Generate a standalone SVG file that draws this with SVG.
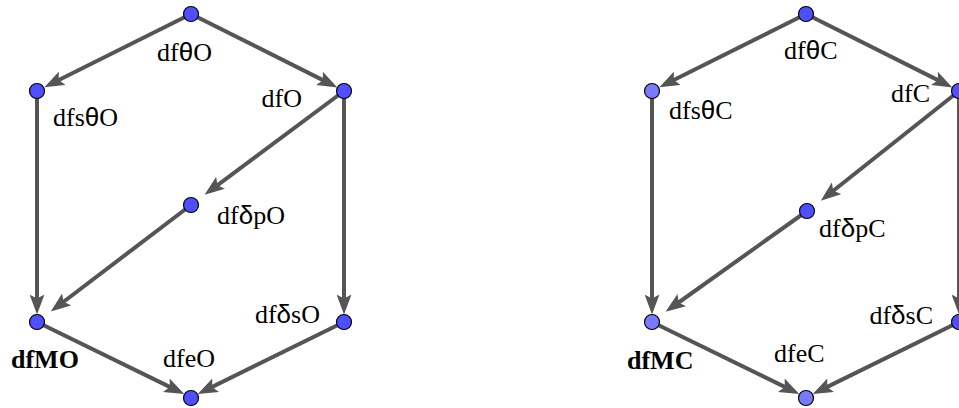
<svg xmlns="http://www.w3.org/2000/svg" width="959" height="408" viewBox="0 0 959 408">
<defs>
<style>
.e{stroke:#555;stroke-width:4;fill:none;marker-end:url(#ah)}
.n{stroke:#000;stroke-width:1.2}
.d{fill:#4f4fff}
.l{fill:#7a7aff}
text{font-family:"Liberation Serif","Times New Roman",serif;font-size:26px;fill:#000}
.g{font-family:"Liberation Sans",Arial,sans-serif}
.b{font-weight:bold}
.r{text-anchor:end}
</style>
<marker id="ah" viewBox="0 0 20 15" refX="10" refY="7.5" markerWidth="20" markerHeight="15" markerUnits="userSpaceOnUse" orient="auto">
<path d="M0,0 L20,7.5 L0,15 L4,7.5 Z" fill="#555"/>
</marker>
</defs>
<rect width="959" height="408" fill="#fff"/>
<g id="connectors">
<line class="e" x1="191" y1="14" x2="53.3" y2="82.8"/>
<line class="e" x1="191" y1="14" x2="328.4" y2="82.9"/>
<line class="e" x1="344" y1="91" x2="212.6" y2="188.8"/>
<line class="e" x1="191" y1="205" x2="58.7" y2="305.5"/>
<line class="e" x1="37" y1="91" x2="37" y2="304.5"/>
<line class="e" x1="344" y1="91" x2="344" y2="304.5"/>
<line class="e" x1="37" y1="322" x2="175.3" y2="389.6"/>
<line class="e" x1="344" y1="322" x2="206.7" y2="389.6"/>
<line class="e" x1="806" y1="14" x2="668.3" y2="82.8"/>
<line class="e" x1="806" y1="14" x2="943.4" y2="82.9"/>
<line class="e" x1="959" y1="91" x2="828.6" y2="194.5"/>
<line class="e" x1="807" y1="211" x2="673.7" y2="306.0"/>
<line class="e" x1="652" y1="91" x2="652" y2="304.5"/>
<line class="e" x1="959" y1="91" x2="959" y2="304.5"/>
<line class="e" x1="652" y1="322" x2="790.3" y2="389.6"/>
<line class="e" x1="959" y1="322" x2="821.7" y2="389.6"/>
</g>
<g id="n-dfthetaO"><circle class="n d" cx="191" cy="14" r="7.5"/><text x="157" y="61">df<tspan class="g">θ</tspan>O</text></g>
<g id="n-dfsthetaO"><circle class="n d" cx="37" cy="91" r="7.5"/><text x="53" y="126">dfs<tspan class="g">θ</tspan>O</text></g>
<g id="n-dfO"><circle class="n d" cx="344" cy="91" r="7.5"/><text class="r" x="302" y="107">dfO</text></g>
<g id="n-dfdeltapO"><circle class="n d" cx="191" cy="205" r="7.5"/><text x="217" y="224">df<tspan class="g">δ</tspan>pO</text></g>
<g id="n-dfMO"><circle class="n d" cx="37" cy="322" r="7.5"/><text class="b" x="11" y="368">dfMO</text></g>
<g id="n-dfdeltasO"><circle class="n d" cx="344" cy="322" r="7.5"/><text class="r" x="320" y="323">df<tspan class="g">δ</tspan>sO</text></g>
<g id="n-dfeO"><circle class="n d" cx="191" cy="398" r="7.5"/><text x="163" y="367">dfeO</text></g>
<g id="n-dfthetaC"><circle class="n d" cx="806" cy="14" r="7.5"/><text x="784" y="59">df<tspan class="g">θ</tspan>C</text></g>
<g id="n-dfsthetaC"><circle class="n l" cx="652" cy="91" r="7.5"/><text x="669" y="119">dfs<tspan class="g">θ</tspan>C</text></g>
<g id="n-dfC"><circle class="n d" cx="959" cy="91" r="7.5"/><text class="r" x="930" y="102">dfC</text></g>
<g id="n-dfdeltapC"><circle class="n d" cx="807" cy="211" r="7.5"/><text x="819" y="237">df<tspan class="g">δ</tspan>pC</text></g>
<g id="n-dfMC"><circle class="n l" cx="652" cy="322" r="7.5"/><text class="b" x="627" y="369">dfMC</text></g>
<g id="n-dfdeltasC"><circle class="n d" cx="959" cy="322" r="7.5"/><text class="r" x="933" y="324">df<tspan class="g">δ</tspan>sC</text></g>
<g id="n-dfeC"><circle class="n l" cx="806" cy="398" r="7.5"/><text x="774" y="362">dfeC</text></g>
</svg>
